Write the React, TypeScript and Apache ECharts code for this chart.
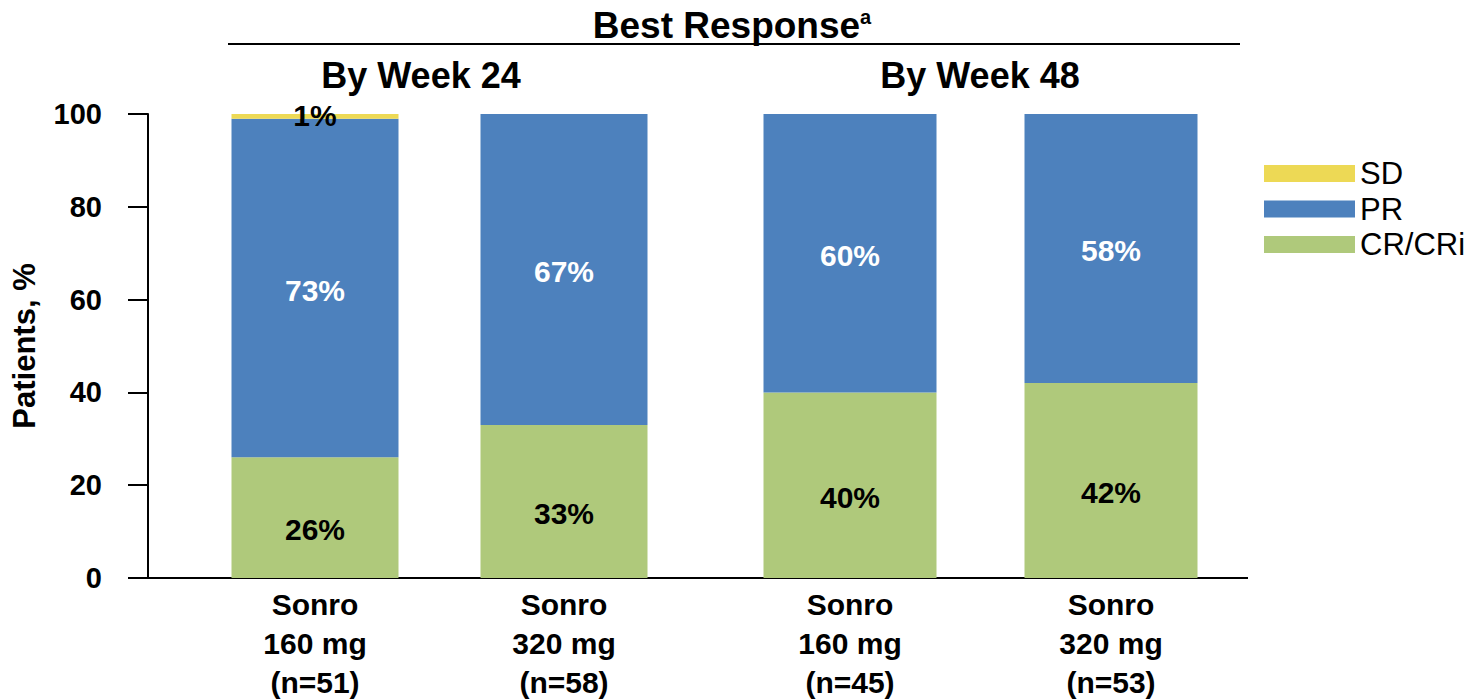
import React, { useEffect, useRef } from "react";
import * as echarts from "echarts";

const categoriesWeek24 = ["Sonro\n160 mg\n(n=51)", "Sonro\n320 mg\n(n=58)"];
const categoriesWeek48 = ["Sonro\n160 mg\n(n=45)", "Sonro\n320 mg\n(n=53)"];
const crWeek24 = [26, 33];
const prWeek24 = [73, 67];
const sdWeek24 = [1, 0];
const crWeek48 = [40, 42];
const prWeek48 = [60, 58];
const sdWeek48 = [0, 0];
const yTicks = { min: 0, max: 100, interval: 20 };
const groupTitles = ["By Week 24", "By Week 48"];
const seriesNames = ["SD", "PR", "CR/CRi"];

const COLORS = { SD: "#EDD955", PR: "#4D81BD", CR: "#AFC97B" };
const FONT = "Liberation Sans, Arial, sans-serif";

export default function App() {
  const ref = useRef<HTMLDivElement>(null);
  useEffect(() => {
    if (!ref.current) return;
    const chart = echarts.init(ref.current, undefined, { renderer: "svg" });
    const fmt = (p: any) => (p.value ? `${p.value}%` : "");
    const lbl = (color: string, offset: number[]) => ({
      show: true,
      position: "inside",
      offset,
      formatter: fmt,
      color,
      fontFamily: FONT,
      fontWeight: "bold",
      fontSize: 30,
    });
    const mkSeries = (gi: number, cr: number[], pr: number[], sd: number[], bw: number) => [
      {
        name: "CR/CRi",
        type: "bar",
        stack: "s" + gi,
        xAxisIndex: gi,
        yAxisIndex: gi,
        barWidth: bw,
        data: cr,
        itemStyle: { color: COLORS.CR },
        label: lbl("#000", [0, 12]),
      },
      {
        name: "PR",
        type: "bar",
        stack: "s" + gi,
        xAxisIndex: gi,
        yAxisIndex: gi,
        barWidth: bw,
        data: pr,
        itemStyle: { color: COLORS.PR },
        label: lbl("#fff", [0, 2]),
      },
      {
        name: "SD",
        type: "bar",
        stack: "s" + gi,
        xAxisIndex: gi,
        yAxisIndex: gi,
        barWidth: bw,
        data: sd,
        itemStyle: { color: COLORS.SD },
        label: lbl("#000", [0, -1]),
      },
    ];
    const xAxisCommon = {
      type: "category",
      axisLine: { show: true, lineStyle: { color: "#000", width: 2 } },
      axisTick: { show: false },
      axisLabel: {
        color: "#000",
        fontFamily: FONT,
        fontWeight: "bold",
        fontSize: 30,
        lineHeight: 39,
        margin: 7,
        interval: 0,
      },
    };
    chart.setOption({
      animation: false,
      grid: [
        { left: 190.5, width: 498, top: 114, bottom: 121, outerBoundsMode: "none", containLabel: false },
        { left: 719.5, width: 522, top: 114, bottom: 121, outerBoundsMode: "none", containLabel: false },
      ],
      xAxis: [
        { ...xAxisCommon, gridIndex: 0, data: categoriesWeek24 },
        { ...xAxisCommon, gridIndex: 1, data: categoriesWeek48 },
      ],
      yAxis: [
        {
          type: "value",
          gridIndex: 0,
          ...yTicks,
          offset: 42.5,
          name: "Patients, %",
          nameLocation: "middle",
          nameRotate: 90,
          nameGap: 108,
          nameTextStyle: { color: "#000", fontFamily: FONT, fontWeight: "bold", fontSize: 31 },
          axisLine: { show: true, lineStyle: { color: "#000", width: 2 } },
          axisTick: { show: true, length: 20, lineStyle: { color: "#000", width: 2 } },
          splitLine: { show: false },
          axisLabel: { color: "#000", fontFamily: FONT, fontWeight: "bold", fontSize: 29, margin: 46 },
        },
        {
          type: "value",
          gridIndex: 1,
          ...yTicks,
          show: false,
          splitLine: { show: false },
        },
      ],
      legend: {
        orient: "vertical",
        left: 1259,
        top: 153,
        itemWidth: 91,
        itemHeight: 17,
        itemGap: 4.5,
        icon: "rect",
        data: seriesNames,
        textStyle: { color: "#000", fontFamily: FONT, fontSize: 31 },
      },
      title: {
        text: "{t|Best Response}{s|a}",
        left: 727,
        textAlign: "center",
        top: 2,
        textStyle: {
          rich: {
            t: { fontFamily: FONT, fontWeight: "bold", fontSize: 37, color: "#000" },
            s: { fontFamily: FONT, fontWeight: "bold", fontSize: 20, color: "#000", verticalAlign: "top", padding: [0, 0, 10, 0] },
          },
        },
      },
      graphic: [
        { type: "line", shape: { x1: 228, y1: 44, x2: 1240, y2: 44 }, style: { stroke: "#000", lineWidth: 2 } },
        { type: "line", shape: { x1: 148, y1: 578, x2: 1248, y2: 578 }, style: { stroke: "#000", lineWidth: 2 } },
        {
          type: "text",
          x: 421,
          y: 75,
          style: { text: groupTitles[0], fontFamily: FONT, fontWeight: "bold", fontSize: 36, fill: "#000", align: "center", verticalAlign: "middle" },
        },
        {
          type: "text",
          x: 980,
          y: 75,
          style: { text: groupTitles[1], fontFamily: FONT, fontWeight: "bold", fontSize: 36, fill: "#000", align: "center", verticalAlign: "middle" },
        },
      ],
      series: [
        ...mkSeries(0, crWeek24, prWeek24, sdWeek24, 167),
        ...mkSeries(1, crWeek48, prWeek48, sdWeek48, 173),
      ],
    });
    return () => chart.dispose();
  }, []);
  return <div ref={ref} style={{ width: 1470, height: 699, position: "absolute", left: 0, top: 0 }} />;
}
